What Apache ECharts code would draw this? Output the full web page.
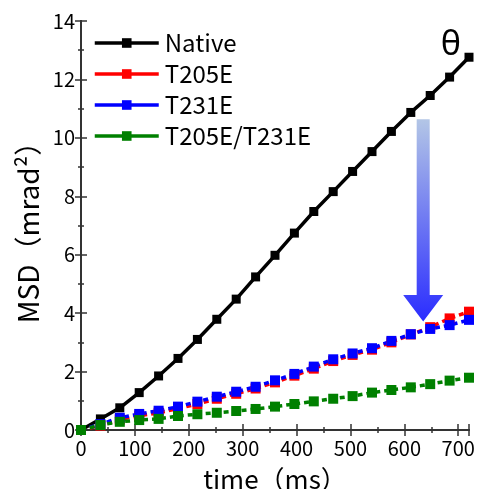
<!DOCTYPE html>
<html>
<head>
<meta charset="utf-8">
<title>MSD</title>
<script src="https://cdn.jsdelivr.net/npm/echarts@6/dist/echarts.min.js"></script>
<style>
  html, body { margin: 0; padding: 0; background: #fff; }
  #main { width: 478px; height: 489px; }
</style>
</head>
<body>
<div id="main"></div>
<script>
// 数据: 时间 (ms) 和 四组 MSD 值
var times = [0, 36, 72, 108, 144, 180, 216, 252, 288, 324, 360, 396, 432, 468, 504, 540, 576, 612, 648, 684, 720]
var nativeMsd = [0, 0.38, 0.76, 1.28, 1.85, 2.45, 3.10, 3.79, 4.48, 5.24, 5.98, 6.74, 7.48, 8.16, 8.85, 9.53, 10.22, 10.87, 11.45, 12.08, 12.76]
var t205e = [0, 0.15, 0.36, 0.49, 0.59, 0.73, 0.89, 1.07, 1.24, 1.42, 1.63, 1.86, 2.10, 2.36, 2.57, 2.75, 3.00, 3.27, 3.52, 3.82, 4.05]
var t231e = [0, 0.20, 0.42, 0.55, 0.66, 0.80, 0.97, 1.14, 1.31, 1.48, 1.70, 1.92, 2.17, 2.42, 2.62, 2.80, 3.05, 3.28, 3.46, 3.59, 3.77]
var t205eT231e = [0, 0.17, 0.28, 0.34, 0.38, 0.48, 0.54, 0.59, 0.65, 0.72, 0.80, 0.89, 0.98, 1.07, 1.16, 1.28, 1.37, 1.46, 1.57, 1.69, 1.79]
var names = ['Native', 'T205E', 'T231E', 'T205E/T231E']
var xTicks = [0, 720, 100]
var yTicks = [0, 14, 2]
// 箭头: 时间位置, 顶端, 箭头开始, 箭尖
var arrowAt = [635, 10.64, 4.62, 3.71]

var font = 'Noto Sans CJK JP'
var axisColor = '#333'

var pairs = function(ys) {
    var r = []
    for (var i = 0; i < times.length; i++) {
        r.push([times[i], ys[i]])
    }
    return r
}

var makeSeries = function(name, ys, color, dashed, size) {
    return {
        name: name,
        type: 'line',
        data: pairs(ys),
        symbol: 'rect',
        symbolSize: size,
        clip: false,
        itemStyle: { color: color },
        lineStyle: { color: color, width: 3.5, type: dashed ? [5, 4] : 'solid' },
        emphasis: { disabled: true },
        animation: false,
    }
}

var xAxisBase = function(pos, showLabel) {
    return {
        type: 'value',
        position: pos,
        min: xTicks[0],
        max: xTicks[1],
        interval: xTicks[2],
        name: showLabel ? 'time（ms）' : '',
        nameLocation: 'middle',
        nameGap: 36,
        nameMoveOverlap: false,
        nameTextStyle: { fontFamily: font, fontSize: 26, color: '#000' },
        axisLine: { show: true, lineStyle: { color: axisColor, width: 2 } },
        axisTick: { show: true, inside: true, length: 6, lineStyle: { color: axisColor, width: 1.5 } },
        minorTick: { show: true, splitNumber: 2, length: 3, lineStyle: { color: axisColor, width: 1.5 } },
        axisLabel: { show: showLabel, showMaxLabel: false, margin: 8, fontFamily: font, fontSize: 20, color: '#000' },
        splitLine: { show: false },
    }
}

var yAxisBase = function(pos, showLabel) {
    return {
        type: 'value',
        position: pos,
        min: yTicks[0],
        max: yTicks[1],
        interval: yTicks[2],
        name: showLabel ? 'MSD（mrad²）' : '',
        nameLocation: 'middle',
        nameGap: 33,
        nameTextStyle: { fontFamily: font, fontSize: 28, color: '#000' },
        axisLine: { show: true, lineStyle: { color: axisColor, width: 2 } },
        axisTick: { show: true, inside: true, length: 6, lineStyle: { color: axisColor, width: 1.5 } },
        minorTick: { show: true, splitNumber: 2, length: 3, lineStyle: { color: axisColor, width: 1.5 } },
        axisLabel: { show: showLabel, margin: 6, fontFamily: font, fontSize: 20, color: '#000' },
        splitLine: { show: false },
    }
}

var myChart = echarts.init(document.getElementById('main'), null, { renderer: 'canvas' })

var option = {
    backgroundColor: '#fff',
    animation: false,
    grid: { left: 81, right: 9, top: 21, bottom: 59, containLabel: false, outerBoundsMode: 'none' },
    legend: {
        data: names,
        orient: 'vertical',
        left: 88,
        top: 26,
        itemWidth: 64,
        itemHeight: 12,
        itemGap: 7,
        selectedMode: false,
        lineStyle: { type: 'solid', width: 3.5 },
        textStyle: { fontFamily: font, fontSize: 24, color: '#000', padding: [0, 0, 0, 1] },
    },
    xAxis: [xAxisBase('bottom', true), xAxisBase('top', false)],
    yAxis: [yAxisBase('left', true), yAxisBase('right', false)],
    series: [
        makeSeries(names[0], nativeMsd, '#000000', false, 9),
        makeSeries(names[1], t205e, '#ff0000', true, 10),
        makeSeries(names[2], t231e, '#0000ff', true, 10),
        makeSeries(names[3], t205eT231e, '#008000', true, 10),
    ],
}
myChart.setOption(option)

// 用坐标换算出箭头的像素位置
var arrowTop = myChart.convertToPixel({ xAxisIndex: 0, yAxisIndex: 0 }, [arrowAt[0], arrowAt[1]])
var arrowHead = myChart.convertToPixel({ xAxisIndex: 0, yAxisIndex: 0 }, [arrowAt[0], arrowAt[2]])
var arrowTip = myChart.convertToPixel({ xAxisIndex: 0, yAxisIndex: 0 }, [arrowAt[0], arrowAt[3]])
var cx = arrowTop[0]
var sw = 6.5
var hw = 20
myChart.setOption({
    graphic: [
        {
            type: 'polygon',
            z: 100,
            shape: {
                points: [
                    [cx - sw, arrowTop[1]], [cx + sw, arrowTop[1]], [cx + sw, arrowHead[1]], [cx + hw, arrowHead[1]],
                    [cx, arrowTip[1]], [cx - hw, arrowHead[1]], [cx - sw, arrowHead[1]],
                ],
            },
            style: {
                fill: new echarts.graphic.LinearGradient(0, 0, 0, 1, [
                    { offset: 0, color: '#b3c6e6' },
                    { offset: 1, color: '#2a2cff' },
                ]),
            },
        },
        {
            type: 'text',
            z: 100,
            right: 17,
            top: 28,
            style: { text: 'θ', font: '34px "Noto Sans"', fill: '#000' },
        },
    ],
})
</script>
</body>
</html>
